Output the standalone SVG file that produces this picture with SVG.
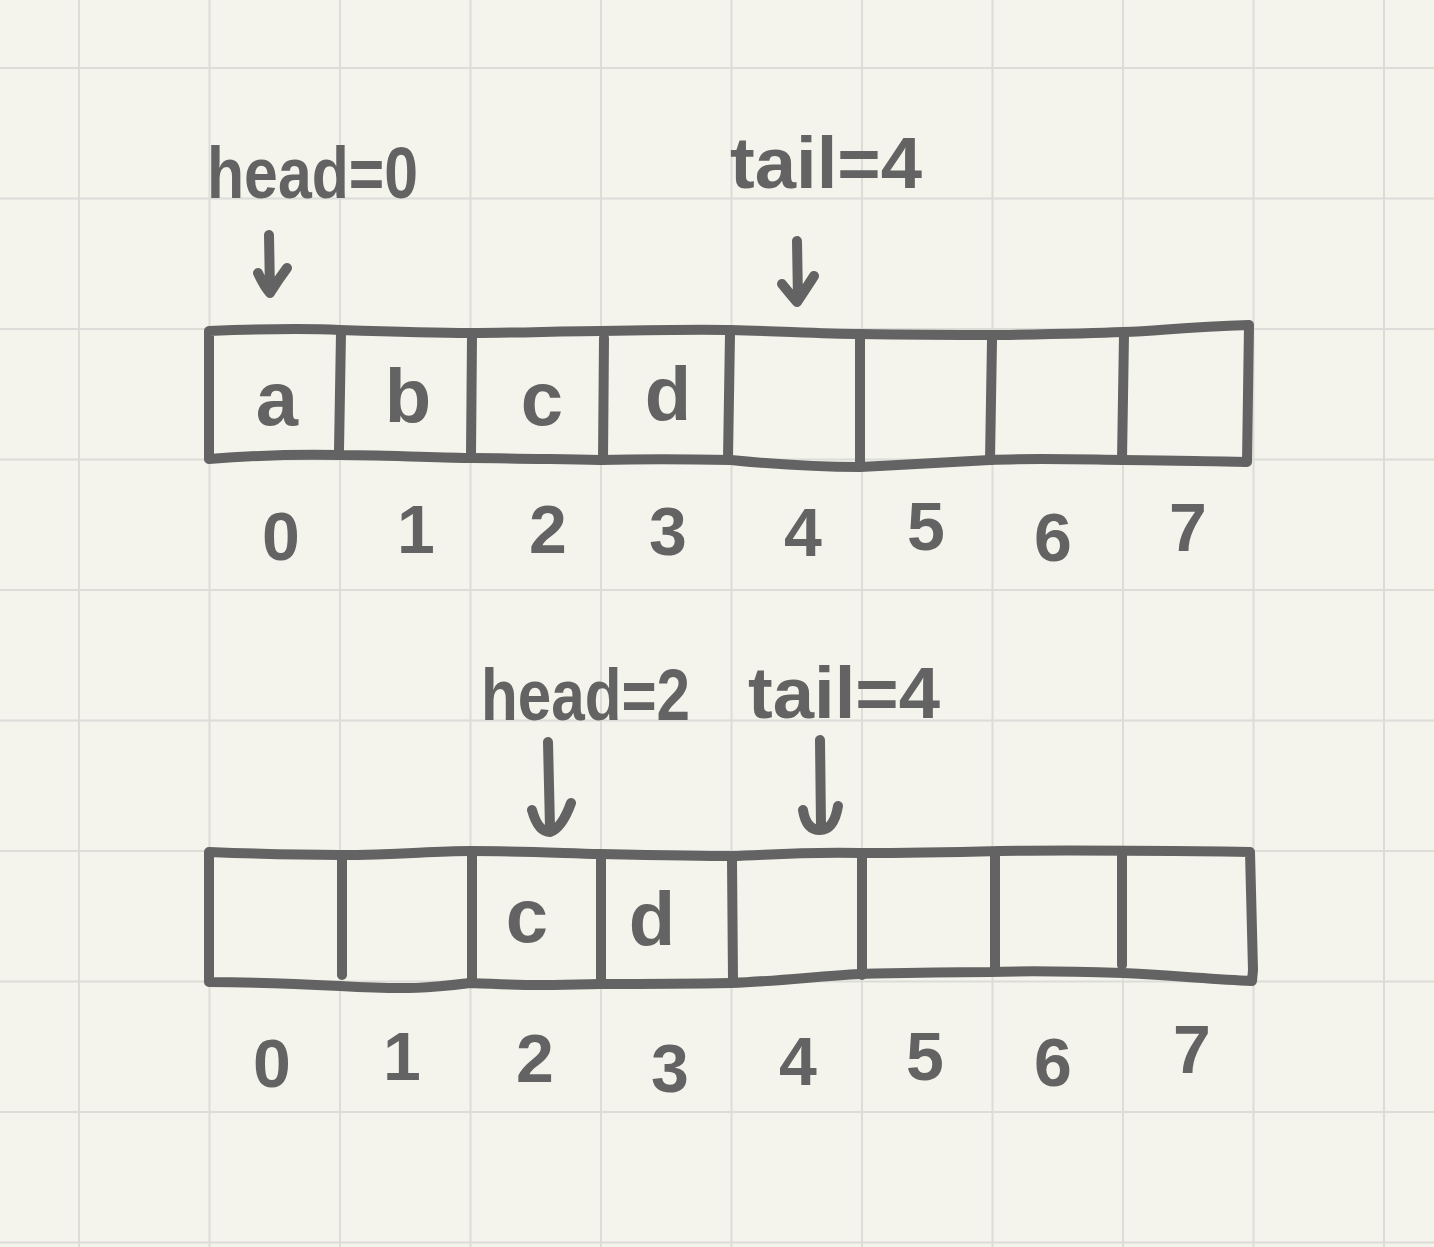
<svg xmlns="http://www.w3.org/2000/svg" width="1434" height="1247" viewBox="0 0 1434 1247">
<style>
.grid{stroke:#dcdcd8;stroke-width:2;fill:none}
.ink{stroke:#636363;stroke-width:10;fill:none;stroke-linecap:round;stroke-linejoin:round}
.lbl{font-family:"Liberation Sans","DejaVu Sans",sans-serif;font-weight:700;fill:#636363}
.big{font-size:72px}
.cell{font-size:76px;text-anchor:middle}
.idx{font-size:68px;text-anchor:middle}
</style>
<rect width="1434" height="1247" fill="#f4f4ec"/>
<g id="grid" class="grid">
<path d="M79 0V1247M209.5 0V1247M340 0V1247M470.5 0V1247M601 0V1247M731.5 0V1247M862 0V1247M992.5 0V1247M1123 0V1247M1253.5 0V1247M1384 0V1247"/>
<path d="M0 68H1434M0 198.5H1434M0 329H1434M0 459.5H1434M0 590H1434M0 720.5H1434M0 851H1434M0 981.5H1434M0 1112H1434M0 1242.5H1434"/>
</g>
<g id="array-top">
<path class="ink" d="M209 331 C260 329 300 328 340 330 C400 332 430 333 470 333 C520 333 560 331 600 331 C650 330 700 329 731 330 C780 331 820 334 860 334 C920 335 960 335 1000 335 C1060 334 1100 333 1123 332 C1160 331 1180 327 1249 325 L1247 462 C1200 461 1150 460 1123 460 C1060 459 1030 458 990 460 C930 463 900 465 860 467 C820 467 780 465 731 460 C680 459 640 459 600 460 C540 459 500 458 470 458 C420 457 370 455 340 455 C300 454 260 455 209 459 Z"/>
<path class="ink" d="M341 333 L339 450 M472 336 L471 455 M604 338 L603 460 M730 334 L728 458 M860 338 L860 466 M992 340 L990 460 M1124 335 L1122 460"/>
<text class="lbl cell" x="277" y="425">a</text>
<text class="lbl cell" x="408" y="422">b</text>
<text class="lbl cell" x="542" y="425">c</text>
<text class="lbl cell" x="668" y="420">d</text>
</g>
<g id="index-top" class="lbl idx">
<text x="281" y="560">0</text><text x="416" y="553">1</text><text x="548" y="553">2</text><text x="668" y="555">3</text>
<text x="803" y="556">4</text><text x="926" y="550">5</text><text x="1053" y="561">6</text><text x="1188" y="551">7</text>
</g>
<g id="label-head0"><text class="lbl big" x="207" y="198" textLength="211" lengthAdjust="spacingAndGlyphs">head=0</text></g>
<g id="label-tail4a"><text class="lbl big" x="730" y="188" textLength="192" lengthAdjust="spacingAndGlyphs">tail=4</text></g>
<g id="array-bottom">
<path class="ink" d="M209 852 C260 854 300 855 340 855 C400 855 430 851 470 851 C520 851 560 853 600 854 C650 855 700 856 731 856 C770 855 790 852 860 853 C920 853 960 852 1000 851 C1060 850 1100 850 1250 852 L1253 970 L1252 981 C1210 979 1180 976 1123 973 C1060 971 1020 971 990 972 C930 972 900 973 860 974 C820 976 780 981 731 983 C680 984 640 984 600 984 C560 985 540 986 470 983 C430 988 410 990 340 986 C300 984 260 982 209 982 L209 976 Z"/>
<path class="ink" d="M342 856 L342 975 M472 855 L472 982 M601 855 L601 981 M732 860 L733 980 M862 855 L862 975 M995 852 L995 970 M1122 852 L1122 965"/>
<text class="lbl cell" x="527" y="942">c</text>
<text class="lbl cell" x="652" y="945">d</text>
</g>
<g id="index-bottom" class="lbl idx">
<text x="272" y="1087">0</text><text x="402" y="1080">1</text><text x="535" y="1082">2</text><text x="670" y="1092">3</text>
<text x="798" y="1085">4</text><text x="925" y="1080">5</text><text x="1053" y="1086">6</text><text x="1192" y="1073">7</text>
</g>
<g id="label-head2"><text class="lbl big" x="481" y="720" textLength="209" lengthAdjust="spacingAndGlyphs">head=2</text></g>
<g id="label-tail4b"><text class="lbl big" x="748" y="718" textLength="192" lengthAdjust="spacingAndGlyphs">tail=4</text></g>
<g id="connectors" class="ink">
<path d="M269 235 L270 292 M258 273 Q264 286 270 293 Q278 280 287 268"/>
<path d="M797 241 L798 300 M782 284 Q790 294 797 302 Q805 290 814 276"/>
<path d="M548 742 L550 828 M532 810 Q538 832 550 832 Q562 828 571 803"/>
<path d="M820 740 L821 826 M803 810 Q806 830 820 830 Q834 830 838 806"/>
</g>
</svg>
